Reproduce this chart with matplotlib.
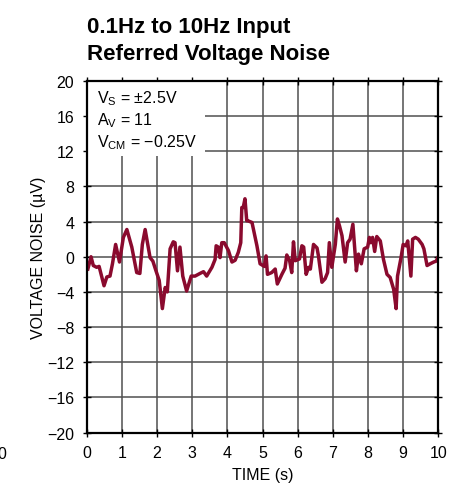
import matplotlib
matplotlib.use("Agg")
import matplotlib.pyplot as plt
from matplotlib.patches import Rectangle

# ---- data ----
time_s = [0.03, 0.12, 0.185, 0.28, 0.35, 0.42, 0.49, 0.57, 0.66, 0.73, 0.82, 0.93,
          1.04, 1.14, 1.28, 1.42, 1.51, 1.58, 1.66, 1.80, 1.88, 1.96, 2.06, 2.15,
          2.23, 2.29, 2.37, 2.46, 2.51, 2.58, 2.65, 2.73, 2.84, 2.97, 3.08, 3.22,
          3.32, 3.41, 3.56, 3.65, 3.68, 3.74, 3.79, 3.84, 3.91, 4.03, 4.13, 4.22,
          4.31, 4.38, 4.41, 4.45, 4.50, 4.55, 4.58, 4.70, 4.84, 4.93, 5.05, 5.10,
          5.14, 5.26, 5.36, 5.42, 5.55, 5.64, 5.69, 5.77, 5.83, 5.88, 5.93, 6.05,
          6.12, 6.17, 6.24, 6.31, 6.36, 6.45, 6.55, 6.59, 6.69, 6.78, 6.85, 6.90,
          6.97, 7.07, 7.13, 7.19, 7.26, 7.35, 7.42, 7.49, 7.57, 7.67, 7.73, 7.81,
          7.89, 7.99, 8.04, 8.08, 8.13, 8.19, 8.25, 8.35, 8.44, 8.54, 8.63, 8.73,
          8.80, 8.84, 8.94, 9.00, 9.08, 9.13, 9.22, 9.27, 9.35, 9.43, 9.54, 9.59,
          9.68, 9.77, 9.87, 9.94, 10.0]
noise_uv = [-1.4, 0.0, -1.0, -1.2, -1.1, -2.2, -3.3, -2.3, -2.2, -0.8, 1.4, -0.6,
            2.2, 3.1, 1.1, -1.8, -1.9, 1.4, 3.1, -0.1, -0.5, -1.5, -2.7, -5.9,
            -3.5, -4.0, 0.9, 1.7, 1.6, -1.6, 1.1, -2.2, -3.9, -2.2, -2.2, -1.9,
            -1.7, -2.2, -1.2, -0.3, 1.25, 1.1, -0.1, 1.6, 1.6, 0.7, -0.6, -0.4,
            0.5, 1.6, 5.6, 5.6, 6.6, 4.1, 4.1, 3.9, 1.25, -0.8, -1.1, 0.1,
            -2.0, -1.8, -1.4, -3.1, -2.0, -1.3, 0.2, -0.45, -1.8, 1.7, -0.45, -0.25,
            1.25, 1.1, -2.0, -1.2, -1.4, 1.4, 1.0, 0.1, -2.9, -2.5, -1.8, 1.6,
            -1.2, 1.4, 4.3, 3.5, 2.4, -0.6, 1.6, 2.0, 3.7, -1.6, 0.3, -0.8,
            0.9, 1.1, 2.2, 1.6, 2.2, 0.6, 2.3, 1.8, -0.3, -2.0, -2.35, -3.7,
            -5.9, -2.2, -0.1, 1.4, 1.25, 1.8, -2.2, 2.0, 2.2, 2.0, 1.4, 0.9,
            -1.0, -0.8, -0.6, -0.5, 0.0]
x_ticks = [0, 1, 2, 3, 4, 5, 6, 7, 8, 9, 10]
y_ticks = [-20, -16, -12, -8, -4, 0, 4, 8, 12, 16, 20]
title_lines = ["0.1Hz to 10Hz Input", "Referred Voltage Noise"]
conditions = [r"V$_\mathregular{S}$ = ±2.5V", r"A$_\mathregular{V}$ = 11",
              r"V$_\mathregular{CM}$ = −0.25V"]

FONT = ["Liberation Sans", "DejaVu Sans"]
plt.rcParams["font.family"] = FONT
plt.rcParams["mathtext.fontset"] = "custom"
plt.rcParams["mathtext.rm"] = "Liberation Sans"
plt.rcParams["axes.unicode_minus"] = True

W, H = 464, 489
fig = plt.figure(figsize=(W / 100, H / 100), dpi=100)
L, R, T, B = 86.8, 438.3, 82.0, 433.5
ax = fig.add_axes([L / W, 1 - B / H, (R - L) / W, (B - T) / H])
ax.set_xlim(0, 10)
ax.set_ylim(-20, 20)

line_col = "#8a0a2e"
grid_col = "#505050"
for xv in x_ticks[1:-1]:
    ax.axvline(xv, color=grid_col, lw=1.1, zorder=1)
for yv in y_ticks[1:-1]:
    ax.axhline(yv, color=grid_col, lw=1.1, zorder=1)

# white box behind the conditions text
ax.add_patch(Rectangle((0, 11.45), 3.37, 8.55, facecolor="white",
                       edgecolor="none", zorder=2))

ax.plot(time_s, noise_uv, color=line_col, lw=2.5, zorder=3,
        solid_joinstyle="round")

FS = 11.5
ax.set_xticks(x_ticks)
ax.set_yticks(y_ticks)
ax.set_xticklabels([str(v) for v in x_ticks])
ax.set_yticklabels([str(v).replace("-", "\u2212") for v in y_ticks])
ax.tick_params(axis="both", labelsize=FS, colors="black", width=1,
               length=6, direction="inout", pad=6)
ax.tick_params(top=True, right=True, which="both")
for s in ax.spines.values():
    s.set_linewidth(1.6)
    s.set_zorder(5)

ax.set_xlabel("TIME (s)", fontsize=FS, labelpad=5)
ax.set_ylabel("VOLTAGE NOISE (µV)", fontsize=FS)
ax.yaxis.set_label_coords(-(L - 46) / (R - L), 0.5)

# conditions text
for i, txt in enumerate(conditions):
    fig.text(97 / W, 1 - (103 + 22 * i) / H, txt, fontsize=FS,
             ha="left", va="baseline")

# title
fig.text(87 / W, 1 - 33 / H, title_lines[0], fontsize=16, weight="bold",
         ha="left", va="baseline")
fig.text(87 / W, 1 - 60 / H, title_lines[1], fontsize=16, weight="bold",
         ha="left", va="baseline")

# clipped label of the neighbouring chart
fig.text(6 / W, 1 - 459 / H, "0", fontsize=FS, ha="right", va="baseline")

fig.savefig("out.png", dpi=100)
